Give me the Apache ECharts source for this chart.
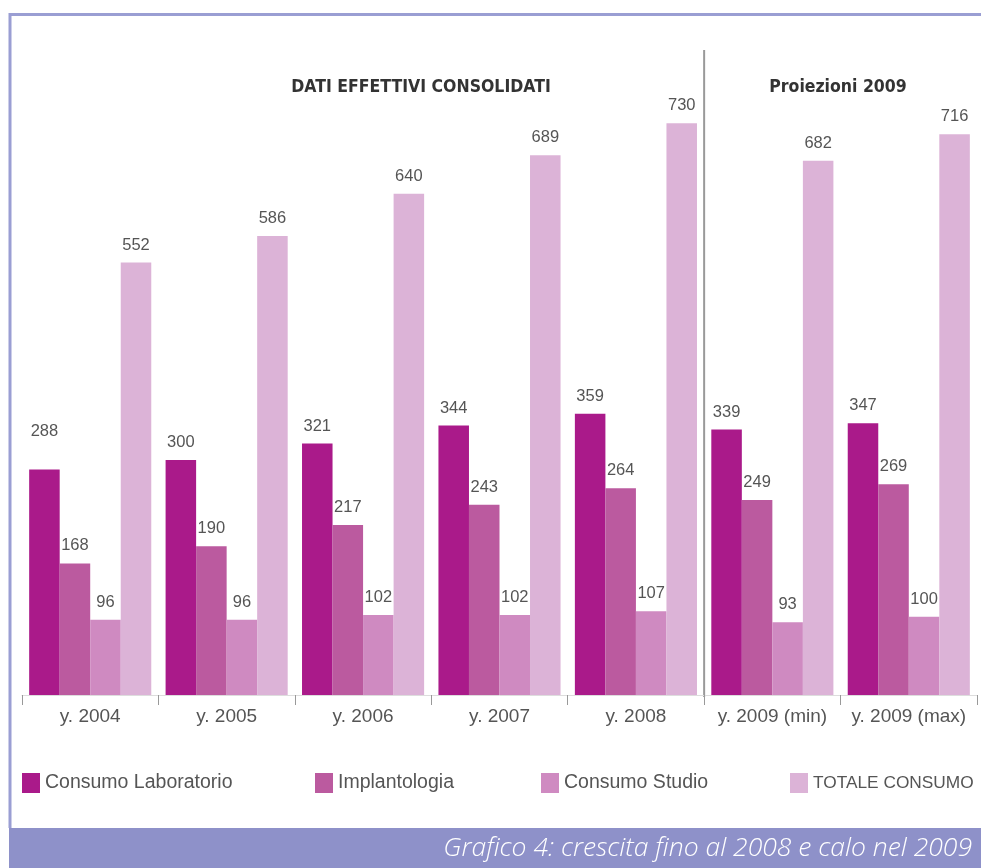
<!DOCTYPE html>
<html><head><meta charset="utf-8">
<script src="https://cdn.jsdelivr.net/npm/echarts@6/dist/echarts.min.js"></script>
<style>html,body{margin:0;padding:0;background:#fff}#c{width:981px;height:868px}</style>
</head><body><div id="c"></div>
<script>
const categories = ['y. 2004','y. 2005','y. 2006','y. 2007','y. 2008','y. 2009 (min)','y. 2009 (max)'];
const consumoLaboratorio = [288,300,321,344,359,339,347];
const implantologia = [168,190,217,243,264,249,269];
const consumoStudio = [96,96,102,102,107,93,100];
const totaleConsumo = [552,586,640,689,730,682,716];
const seriesNames = ['Consumo Laboratorio','Implantologia','Consumo Studio','TOTALE CONSUMO'];
const colors = ['#aa1a8a','#bb5a9f','#cf8ac1','#dcb3d7'];
const headers = ['DATI EFFETTIVI CONSOLIDATI','Proiezioni 2009'];
const caption = 'Grafico 4: crescita fino al 2008 e calo nel 2009';

const chart = echarts.init(document.getElementById('c'));
const valueSets = [consumoLaboratorio, implantologia, consumoStudio, totaleConsumo];
const FONT = 'Liberation Sans, Arial, sans-serif';
const labelStyle = {show:true, position:'top', distance:9, color:'#555', fontSize:16.5, fontFamily:FONT};
const series = valueSets.map((vals, s) => ({
  name: seriesNames[s], type:'bar', barGap:'0%', barCategoryGap:'10.5%',
  itemStyle:{color:colors[s]},
  label: labelStyle,
  data: vals.map((v,i) => (s===0 && i===0) ? {value:v, label:{offset:[0,-20]}} : v)
}));
const legendLefts = [22,315,541,790];
const legendSizes = [19.5,19.5,19.5,17.3];
const legends = seriesNames.map((n,i)=>({
  data:[n], left:legendLefts[i], top:773, padding:0, icon:'rect', itemWidth:18, itemHeight:20,
  itemStyle:{color:colors[i]},
  textStyle:{color:'#555', fontSize:legendSizes[i], fontFamily:FONT}
}));
const HFONT = 'bold 17.5px "DejaVu Sans Condensed", "Liberation Sans", sans-serif';
const baseGraphic = [
  {type:'line', shape:{x1:10, y1:14.5, x2:981, y2:14.5}, style:{stroke:'#9a9ed3', lineWidth:3}, silent:true},
  {type:'line', shape:{x1:10, y1:13, x2:10, y2:828}, style:{stroke:'#9a9ed3', lineWidth:3}, silent:true},
  {type:'rect', shape:{x:9, y:828, width:972, height:40}, style:{fill:'#8e91c9'}, silent:true},
  {type:'text', style:{text:caption, x:972, y:848, align:'right', verticalAlign:'middle', fill:'#ffffff', font:'italic 300 26.5px "Open Sans", Lato, sans-serif'}, silent:true},
  {type:'text', style:{text:headers[0], x:421, y:87, align:'center', verticalAlign:'middle', fill:'#333', font:HFONT}, silent:true},
  {type:'text', style:{text:headers[1], x:838, y:87, align:'center', verticalAlign:'middle', fill:'#333', font:HFONT}, silent:true}
];
chart.setOption({
  animation:false,
  backgroundColor:'#ffffff',
  color:colors,
  grid:{left:22, right:4, top:48, bottom:173},
  legend: legends,
  xAxis:{type:'category', data:categories, boundaryGap:true,
    axisLine:{show:true, lineStyle:{color:'#dddddd', width:1}},
    axisTick:{show:true, length:10, lineStyle:{color:'#999'}},
    axisLabel:{color:'#555', fontSize:19, margin:12, fontFamily:FONT, interval:0},
    splitLine:{show:false}
  },
  yAxis:{type:'value', min:0, max:826, show:false, splitLine:{show:false}},
  series: series,
  graphic: baseGraphic
});
// divider between actual data (2008) and projections (2009), placed via the axis scale
const xa = chart.convertToPixel({xAxisIndex:0}, categories[4]);
const xb = chart.convertToPixel({xAxisIndex:0}, categories[5]);
const yTop = chart.convertToPixel({yAxisIndex:0}, 826) + 2;
const yBase = chart.convertToPixel({yAxisIndex:0}, 0);
chart.setOption({graphic: baseGraphic.concat([
  {type:'line', shape:{x1:(xa+xb)/2, y1:yTop, x2:(xa+xb)/2, y2:yBase+2}, style:{stroke:'#999', lineWidth:2}, silent:true}
])});
</script></body></html>
